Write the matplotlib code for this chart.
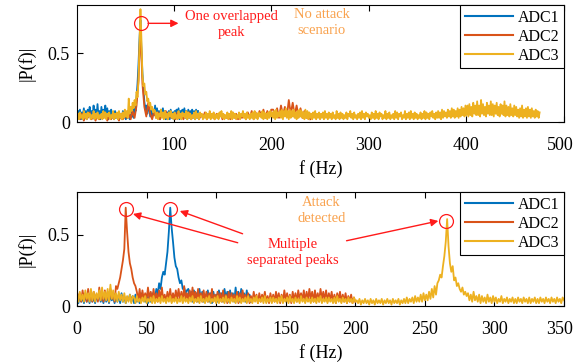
import numpy as np
import matplotlib
matplotlib.use("Agg")
import matplotlib.pyplot as plt
from matplotlib.transforms import ScaledTranslation

# spectrum magnitudes in hundredths
# --- no attack (top) ---
adc1_top_f = (2, 125)
adc1_top = [8,3,9,2,7,4,10,3,8,2,9,5,11,3,8,4,12,2,9,3,13,4,8,2,11,3,9,5,12,3,10,2,8,4,9,3,7,2,8,3,
            6,2,7,3,6,2,8,3,7,2,6,3,8,2,9,4,
            10,3,12,8,18,28,42,60,74,52,36,24,15,9,12,6,11,
            10,4,11,3,9,5,12,4,10,3,8,2,9,4,10,3,8,2,7,3,8,2,9,3,7,2,8,4,9,3,
            10,2,8,3,9,4,10,3,8,2,9,3,8,4,9,3,8,2,9,3,8]

adc2_top_f = (2, 240)
adc2_top = [5,2,6,1,5,3,7,2,5,1,6,2,5,3,6,1,5,2,7,3,5,1,6,2,5,3,7,2,
            8,3,12,30,70,28,11,4,14,
            6,2,8,3,7,2,6,3,8,2,5,3,6,2,7,3,5,2,6,3,7,2,5,3,6,2,5,3,7,2,6,3,5,2,6,3,7,2,5,3,
            6,2,7,3,6,2,5,3,6,2,7,3,8,2,7,3,8,4,9,3,8,4,9,
            9,4,10,3,12,5,11,4,16,6,14,5,12,4,10,3,8,3,6,2]

adc3_top_f = (2, 475)
adc3_top = [6,2,7,3,5,2,8,3,6,2,7,4,6,2,5,3,8,2,6,3,7,2,5,3,6,2,8,3,7,2,6,4,7,2,5,3,8,2,6,3,
            7,2,8,3,6,2,7,3,9,4,8,3,
            17,6,11,8,14,10,16,12,22,18,30,55,82,60,35,26,28,20,22,15,17,12,14,9,11,7,9,
            8,3,7,2,6,4,9,3,7,2, 8,3,6,2,7,4,8,3,6,2, 7,3,5,2,8,3,6,2,7,4, 6,3,8,2,7,3,6,2,5,3,
            7,2,8,3,6,2,7,4,6,2, 5,3,7,2,6,3,8,2,6,3, 7,2,5,3,6,2,7,4,8,3, 6,2,5,3,7,2,6,3,8,2,
            7,3,6,2,5,3,7,2,6,4, 8,3,6,2,7,3,5,2,6,3, 7,2,8,3,6,2,7,4,6,3, 8,2,7,3,6,2,7,3,8,4,
            7,3,8,2,9,3,7,4,8,3, 9,2,8,4,10,3,8,2,9,3, 8,4,9,3,7,2,8,3,9,4, 8,3,7,2,9,3,8,2,7,3,
            6,2,7,3,8,2,6,3,7,2, 6,3,7,2,8,3,6,2,7,3,
            6,2,7,3,5,2,8,3,6,2, 7,3,6,2,5,3,7,2,6,4, 8,3,6,2,7,3,5,2,6,3, 7,2,8,3,6,2,7,4,6,3,
            5,2,7,3,6,2,8,3,6,2, 7,4,6,2,5,3,8,2,6,3, 7,2,5,3,6,2,8,3,7,2, 6,4,7,2,5,3,8,2,6,3,
            7,2,8,3,6,2,7,3,6,2, 5,3,7,2,6,3,8,2,7,3, 6,2,7,4,8,3,6,2,7,3, 8,3,7,2,9,3,8,4,7,3,
            9,4,8,3,10,4,9,3,8,4, 10,3,9,4,11,5,10,4,12,5,
            12,4,13,5,11,4,14,6,12,5, 15,5,12,4,16,6,13,5,11,4, 14,6,12,5,15,5,13,4,12,6,
            14,5,11,4,13,6,12,5,15,4, 12,5,11,4,13,5,10,4,12,5, 11,4,9,3,10,4,12,3,9,4,
            10,3,11,4,9,3,10,4,8,3, 9,4,8,3,7]

# --- attack (bottom) ---
adc1_bot_f = (0, 125)
adc1_bot = [7,2,8,3,6,2,9,3,7,2, 8,3,6,2,7,4,8,3,6,2, 9,3,7,2,8,4,6,2,7,3, 8,2,9,3,7,2,6,4,8,3,
            7,2,8,3,6,2,9,4,7,3, 8,2,7,3,9,4,5,
            12,8,16,12,20,24,22,30,38,52,69,55,45,34,28,26,20,16,18,12,13,9,11,
            12,4,10,3,11,5,9,3,12,4, 10,3,8,4,11,3,9,2,10,4, 8,3,11,4,9,3,12,5,10,3,
            11,4,9,3,13,4,10,3,12,4, 9,3,11,4,8,3]

adc2_bot_f = (0, 200)
adc2_bot = [10,4,9,3,11,5,8,3,12,4, 9,3,10,5,8,3,13,4,9,3, 11,4,10,3,12,5,9,3,14,
            12,16,20,26,32,40,69,52,38,30,26,20,16,14,
            10,4,12,3,11,5,9,4,13,5, 10,3,12,4,9,3,11,5,13,4, 8,3,10,4,12,3,9,4,11,5, 12,4,10,3,14,5,9,4,
            11,4,13,5,10,3,12,4,9,3, 11,4,10,3,9,4,12,3,8,3, 10,4,9,3,11,3,8,2,10,3, 9,4,8,3,10,2,9,3,11,4,
            8,3,9,2,7,3,10,4,8,2, 9,3,8,4,10,3,7,2,9,3, 8,3,10,4,9,2,8,3,11,4, 9,3,8,2,10,4,9,3,11,5,
            9,4,11,3,10,4,12,5,10,3, 11,4,9,3,12,5,10,4,11,3, 9,4,10,3,8,2,9,4,10,3, 8,3,9,2,7,3,8,2,6,3]

adc3_bot_f = (0, 350)
adc3_bot = [9,3,10,4,8,3,11,5,9,3, 12,4,10,3,9,5,11,4,13,5, 10,4,12,3,15,5,11,4,9,3, 10,4,8,3,9,2,7,3,8,2, 7,
            6,2,7,3,5,2,6,3,7,2, 5,3,6,2,7,2,5,3,6,2, 7,3,5,2,6,3,7,2,5,3, 6,2,5,3,7,2,6,3,5,2,
            6,3,7,2,5,3,6,2,7,3, 5,2,6,3,7,2,5,3,6,2, 7,2,5,3,6,2,7,3,5,2, 6,3,5,2,7,3,6,2,5,3,
            6,2,7,3,5,2,6,3,7,2, 5,3,6,2,7,2,5,3,6,2, 6,3,5,2,6,3,7,2,5,3, 6,2,7,3,5,2,6,3,5,2,
            7,3,5,2,6,3,5,2,6,3, 5,2,6,3,7,2,5,3,6,2, 6,3,5,2,6,2,7,3,5,2, 6,3,5,2,6,3,5,2,6,3,
            4,2,5,1,4,2,5,2,4,1, 5,2,4,1,5,2,4,2,5,1, 4,2,5,2,4,1,5,2,4,2, 5,1,4,2,5,2,6,2,5,3,
            6,2,7,3,6,3,8,3,9,4,
            8,4,10,5,12,6,14,8,16,18,22,20,28,35,45,61,42,30,24,28,18,20,14,16,12,10,13,8,10,7,
            9,4,8,3,10,4,7,3,8,2, 7,3,6,2,8,3,6,2,7,3, 6,2,5,3,7,2,5,3,6,2, 5,3,6,2,5,2,6,3,5,2,
            6,3,5,2,6,2,5,3,6,2, 5,2,6,3,5,2,6,3,5,2, 6,3,5,2,6,3,5,2,6,4]

labels = ["ADC1", "ADC2", "ADC3"]
colors = ["#0072BD", "#D95319", "#EDB120"]
red = "#FF1A1A"
orange = "#F9A24E"

plt.rcParams["font.family"] = ["Liberation Serif", "DejaVu Serif"]

fig = plt.figure(figsize=(5.76, 3.64), dpi=100)
ax1 = fig.add_axes([0.1337, 0.6648, 0.8455, 0.3214])
ax2 = fig.add_axes([0.1337, 0.1593, 0.8455, 0.3132])


def spectrum(rng, vals):
    f = np.linspace(rng[0], rng[1], len(vals))
    return f, np.array(vals) / 100.0


top = [(adc1_top_f, adc1_top), (adc2_top_f, adc2_top), (adc3_top_f, adc3_top)]
bot = [(adc1_bot_f, adc1_bot), (adc2_bot_f, adc2_bot), (adc3_bot_f, adc3_bot)]

for ax, series in [(ax1, top), (ax2, bot)]:
    for (rng, vals), c, lab in zip(series, colors, labels):
        f, p = spectrum(rng, vals)
        ax.plot(f, p, color=c, lw=1.3, label=lab)
    ax.tick_params(direction="in", top=True, right=True, length=4, labelsize=13)
    ax.tick_params(axis="x", pad=11)
    ax.tick_params(axis="y", pad=5)
    ax.set_xlabel("f (Hz)", fontsize=13, labelpad=4)
    ax.set_ylabel("|P(f)|", fontsize=13, labelpad=9)
    ax.set_yticks([0, 0.5])
    ax.set_yticklabels(["0", "0.5"])
    leg = ax.legend(loc="upper right", borderaxespad=0, fancybox=False,
                    edgecolor="black", framealpha=1, handlelength=3.0,
                    labelspacing=0.18, borderpad=0.3, handletextpad=0.3, fontsize=11.5)
    leg.get_frame().set_linewidth(0.8)
    for ln in leg.get_lines():
        ln.set_linewidth(1.5)

ax1.set_xlim(1, 500)
ax1.set_ylim(0, 0.85)
ax1.set_xticks([100, 200, 300, 400, 500])
ax2.set_xlim(0, 350)
ax2.set_ylim(0, 0.8)
ax2.set_xticks(range(0, 351, 50))

# last x tick label nudged left so it stays inside the figure
for ax in (ax1, ax2):
    last = ax.get_xticklabels()[-1]
    last.set_transform(last.get_transform() + ScaledTranslation(-0.04, 0, fig.dpi_scale_trans))

arrow = dict(arrowstyle="-|>", color=red, lw=1.0, mutation_scale=11, shrinkA=0, shrinkB=0)

# top annotations
ax1.plot([66.6], [0.717], "o", mfc="none", mec=red, ms=10, mew=0.9)
ax1.annotate("", xy=(105, 0.717), xytext=(73.8, 0.717), arrowprops=arrow)
ax1.text(159, 0.71, "One overlapped\npeak", color=red, fontsize=10.5, ha="center", va="center", linespacing=1.3)
ax1.text(252, 0.72, "No attack\nscenario", color=orange, fontsize=10.5, ha="center", va="center", linespacing=1.3)

# bottom annotations
for x, y in [(35.2, 0.68), (66.7, 0.68), (265.4, 0.60)]:
    ax2.plot([x], [y], "o", mfc="none", mec=red, ms=10, mew=0.9)
ax2.annotate("", xy=(73.9, 0.667), xytext=(119, 0.507), arrowprops=arrow)
ax2.annotate("", xy=(40.2, 0.646), xytext=(115.5, 0.444), arrowprops=arrow)
ax2.annotate("", xy=(259.7, 0.597), xytext=(193.7, 0.458), arrowprops=arrow)
ax2.text(155, 0.375, "Multiple\nseparated peaks", color=red, fontsize=10.5, ha="center", va="center", linespacing=1.3)
ax2.text(175.8, 0.667, "Attack\ndetected", color=orange, fontsize=10.5, ha="center", va="center", linespacing=1.3)

fig.savefig("out.png", dpi=100)
